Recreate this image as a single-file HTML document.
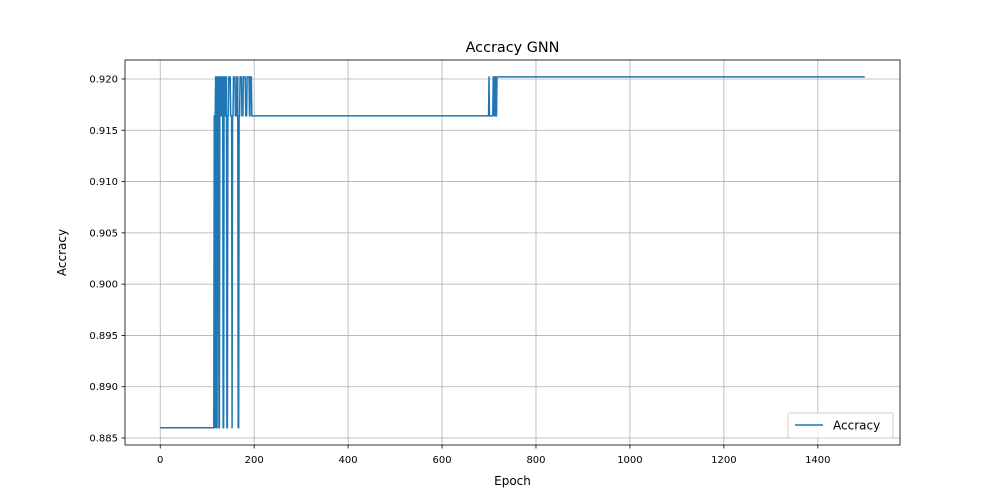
<!DOCTYPE html>
<html><head><meta charset="utf-8"><style>
body{margin:0;background:#fff;font-family:"DejaVu Sans","Liberation Sans",sans-serif}
svg text{font-family:"DejaVu Sans","Liberation Sans",sans-serif}
</style></head><body>
<svg id="chart" width="1000" height="500" xmlns="http://www.w3.org/2000/svg">
<rect width="1000" height="500" fill="#fff"/>
<g id="grid"></g>
<g id="series"></g>
<rect x="125" y="60" width="775" height="385" fill="none" stroke="#000" stroke-width="0.8"/>
<g id="ticks"></g>
<text x="512.5" y="52" font-size="14.4" text-anchor="middle">Accracy GNN</text>
<text x="512.5" y="485" font-size="12" text-anchor="middle">Epoch</text>
<text x="66" y="252.5" font-size="12" text-anchor="middle" transform="rotate(-90 66 252.5)">Accracy</text>
<g>
<rect x="788" y="413" width="105" height="25" rx="2" fill="#fff" fill-opacity="0.8" stroke="#ccc"/>
<line x1="795" y1="425" x2="823" y2="425" stroke="#1f77b4" stroke-width="1.5"/>
<text x="833" y="429.5" font-size="12">Accracy</text>
</g>
</svg>
<script>
const xTicks=[0,200,400,600,800,1000,1200,1400];
const yTicks=[0.885,0.890,0.895,0.900,0.905,0.910,0.915,0.920];
const changeEpochs=[0,115,116,117,118,119,120,121,122,123,125,127,130,132,134,136,138,140,142,144,146,150,153,154,156,160,163,166,168,170,174,177,182,185,190,192,195,700,701,709,711,713,715,717,1500];
const changeValues=[0.8860,0.9164,0.8860,0.9164,0.9202,0.8860,0.9202,0.8860,0.9164,0.9202,0.8860,0.9202,0.9164,0.9202,0.8860,0.9202,0.9164,0.9202,0.8860,0.9164,0.9202,0.9164,0.8860,0.9164,0.9202,0.9164,0.9202,0.8860,0.9164,0.9202,0.9164,0.9202,0.9164,0.9202,0.9164,0.9202,0.9164,0.9202,0.9164,0.9202,0.9164,0.9202,0.9164,0.9202,0.9202];
const NS="http://www.w3.org/2000/svg";
const X0=-75,X1=1575,Y0=0.88432,Y1=0.92185;
const sx=v=>125+(v-X0)/(X1-X0)*775;
const sy=v=>445-(v-Y0)/(Y1-Y0)*385;
function mk(t,a,p){const e=document.createElementNS(NS,t);for(const k in a)e.setAttribute(k,a[k]);p.appendChild(e);return e;}
const grid=document.getElementById('grid'),ticks=document.getElementById('ticks'),series=document.getElementById('series');
xTicks.forEach(v=>{const x=sx(v);
const g=mk('line',{x1:x,x2:x,y1:60,y2:445,stroke:'#b0b0b0','stroke-width':0.8},grid);


mk('line',{x1:x,x2:x,y1:445,y2:448.5,stroke:'#000','stroke-width':0.8},ticks);
const t=mk('text',{x:x,y:463,'font-size':10,'text-anchor':'middle'},ticks);t.textContent=v;

});
yTicks.forEach(v=>{const y=sy(v);
const g=mk('line',{x1:125,x2:900,y1:y,y2:y,stroke:'#b0b0b0','stroke-width':0.8},grid);


mk('line',{x1:121.5,x2:125,y1:y,y2:y,stroke:'#000','stroke-width':0.8},ticks);
const t=mk('text',{x:118,y:y+3.5,'font-size':10,'text-anchor':'end'},ticks);t.textContent=v.toFixed(3);

});
let d='';
for(let i=0;i<changeEpochs.length;i++){
 const x=sx(changeEpochs[i]),y=sy(changeValues[i]);
 if(i===0)d+='M'+x+' '+y;
 else{d+=' L'+(sx(changeEpochs[i]-1))+' '+sy(changeValues[i-1])+' L'+x+' '+y;}
}
const p=mk('path',{d:d,fill:'none',stroke:'#1f77b4','stroke-width':1.5,'stroke-linejoin':'round'},series);


</script>
</body></html>
